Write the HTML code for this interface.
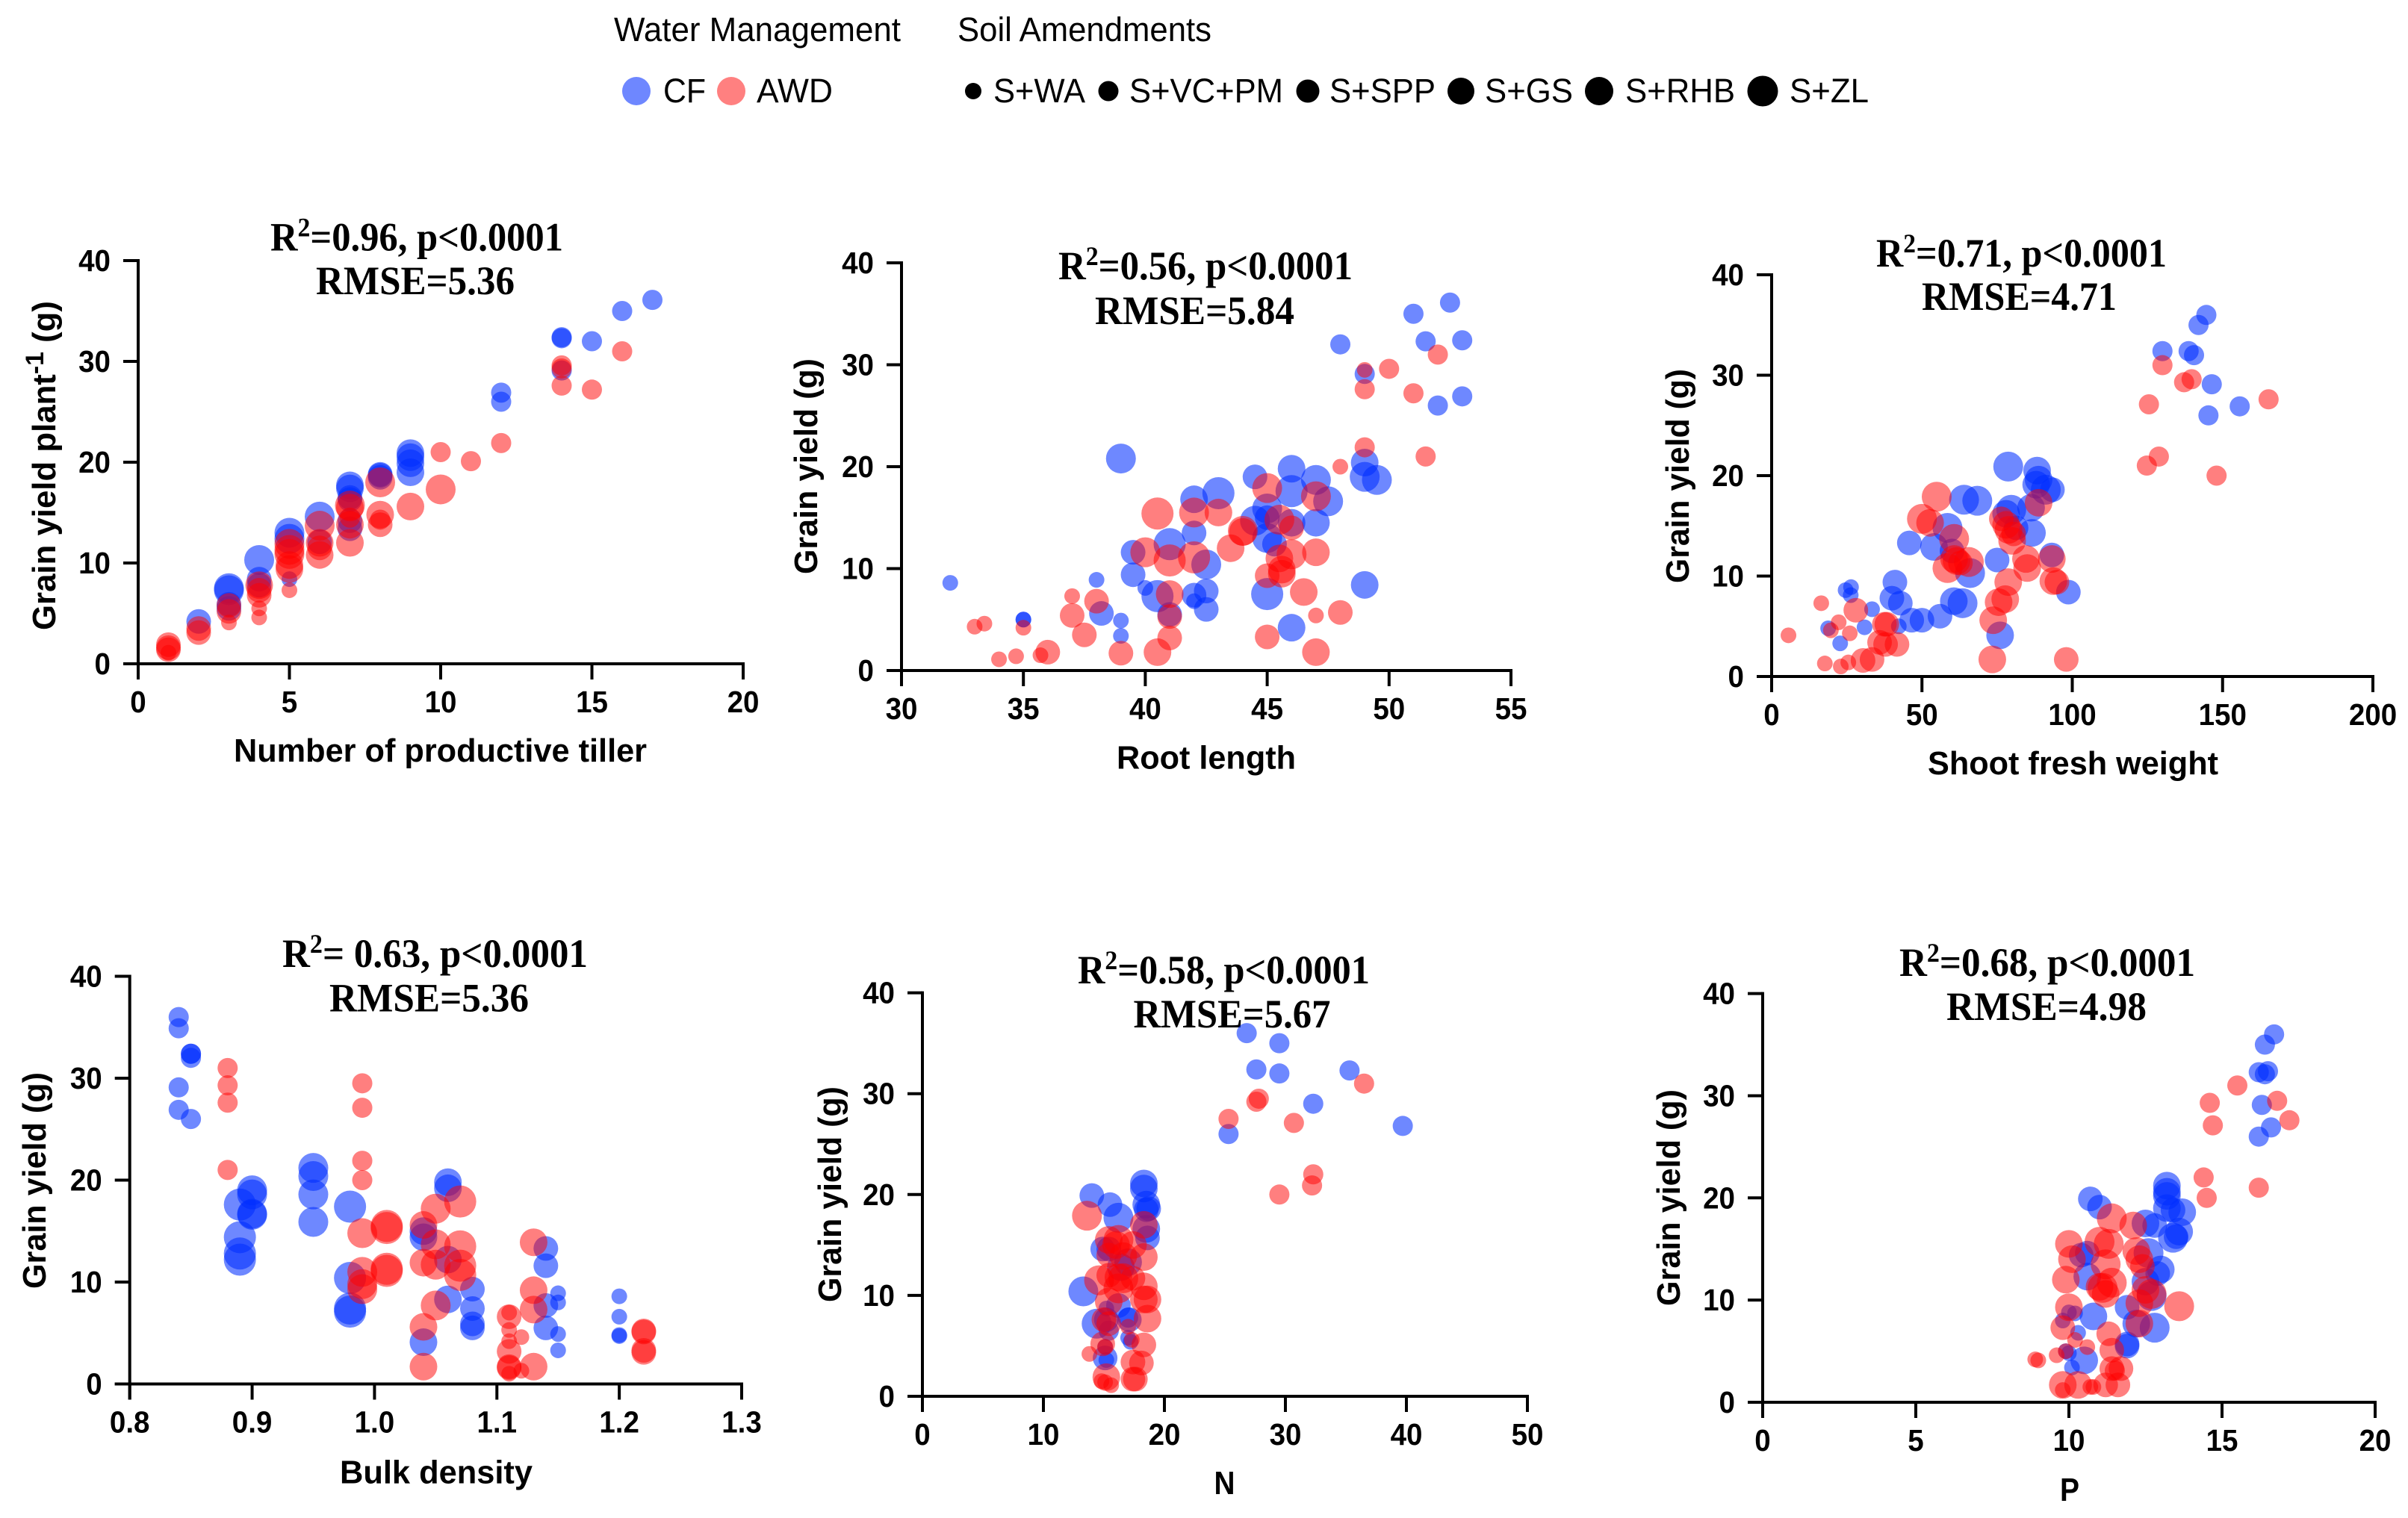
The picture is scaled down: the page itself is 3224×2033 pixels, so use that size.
<!DOCTYPE html>
<html lang="en">
<head>
<meta charset="utf-8">
<title>Grain yield relationships</title>
<style>
html,body{margin:0;padding:0;background:#fff;}
svg{display:block;}
.legend{font-family:"Liberation Sans",sans-serif;font-size:45px;fill:#000;}
.title{font-family:"Liberation Serif",serif;font-weight:bold;font-size:54px;fill:#000;}
.axis-title{font-family:"Liberation Sans",sans-serif;font-weight:bold;font-size:44px;fill:#000;}
.tick{font-family:"Liberation Sans",sans-serif;font-weight:bold;font-size:41px;fill:#000;}
</style>
</head>
<body>
<svg id="chart" xmlns="http://www.w3.org/2000/svg" width="3224" height="2033" viewBox="0 0 3224 2033">
<rect width="3224" height="2033" fill="#fff"/>
<g>
<text class="legend" x="822" y="55" textLength="384" lengthAdjust="spacingAndGlyphs">Water Management</text>
<text class="legend" x="1282" y="55" textLength="340" lengthAdjust="spacingAndGlyphs">Soil Amendments</text>
<circle cx="852" cy="122" r="19" fill="#6e87ff"/>
<text class="legend" x="888" y="137" textLength="57" lengthAdjust="spacingAndGlyphs">CF</text>
<circle cx="979" cy="122" r="19" fill="#ff8080"/>
<text class="legend" x="1013" y="137" textLength="102" lengthAdjust="spacingAndGlyphs">AWD</text>
<circle cx="1303" cy="122" r="11"/>
<text class="legend" x="1330" y="137" textLength="123" lengthAdjust="spacingAndGlyphs">S+WA</text>
<circle cx="1484" cy="122" r="13.5"/>
<text class="legend" x="1512" y="137" textLength="206" lengthAdjust="spacingAndGlyphs">S+VC+PM</text>
<circle cx="1751" cy="122" r="15.5"/>
<text class="legend" x="1780" y="137" textLength="142" lengthAdjust="spacingAndGlyphs">S+SPP</text>
<circle cx="1956" cy="122" r="18"/>
<text class="legend" x="1988" y="137" textLength="118" lengthAdjust="spacingAndGlyphs">S+GS</text>
<circle cx="2141" cy="122" r="19"/>
<text class="legend" x="2176" y="137" textLength="147" lengthAdjust="spacingAndGlyphs">S+RHB</text>
<circle cx="2360" cy="122" r="20.5"/>
<text class="legend" x="2396" y="137" textLength="106" lengthAdjust="spacingAndGlyphs">S+ZL</text>
</g>

<text class="title" x="362" y="335.5" textLength="392" lengthAdjust="spacingAndGlyphs">R<tspan dy="-19" font-size="36">2</tspan><tspan dy="19">=0.96, p&lt;0.0001</tspan></text>
<text class="title" x="423" y="394" textLength="266" lengthAdjust="spacingAndGlyphs">RMSE=5.36</text>
<text class="axis-title" x="313" y="1020" textLength="553" lengthAdjust="spacingAndGlyphs">Number of productive tiller</text>
<text class="axis-title" transform="translate(74 844) rotate(-90)" textLength="441" lengthAdjust="spacingAndGlyphs">Grain yield plant<tspan dy="-16" font-size="34">-1</tspan><tspan dy="16"> (g)</tspan></text>

<text class="title" x="1417" y="374" textLength="394" lengthAdjust="spacingAndGlyphs">R<tspan dy="-19" font-size="36">2</tspan><tspan dy="19">=0.56, p&lt;0.0001</tspan></text>
<text class="title" x="1466" y="434" textLength="267" lengthAdjust="spacingAndGlyphs">RMSE=5.84</text>
<text class="axis-title" x="1495" y="1029.5" textLength="240" lengthAdjust="spacingAndGlyphs">Root length</text>
<text class="axis-title" transform="translate(1094 769) rotate(-90)" textLength="289" lengthAdjust="spacingAndGlyphs">Grain yield (g)</text>

<text class="title" x="2512" y="357" textLength="389" lengthAdjust="spacingAndGlyphs">R<tspan dy="-19" font-size="36">2</tspan><tspan dy="19">=0.71, p&lt;0.0001</tspan></text>
<text class="title" x="2573" y="415" textLength="261" lengthAdjust="spacingAndGlyphs">RMSE=4.71</text>
<text class="axis-title" x="2581" y="1037" textLength="389" lengthAdjust="spacingAndGlyphs">Shoot fresh weight</text>
<text class="axis-title" transform="translate(2261 781) rotate(-90)" textLength="287" lengthAdjust="spacingAndGlyphs">Grain yield (g)</text>

<text class="title" x="378" y="1295" textLength="409" lengthAdjust="spacingAndGlyphs">R<tspan dy="-19" font-size="36">2</tspan><tspan dy="19">= 0.63, p&lt;0.0001</tspan></text>
<text class="title" x="441" y="1354.5" textLength="267" lengthAdjust="spacingAndGlyphs">RMSE=5.36</text>
<text class="axis-title" x="455" y="1986.5" textLength="258" lengthAdjust="spacingAndGlyphs">Bulk density</text>
<text class="axis-title" transform="translate(61 1726) rotate(-90)" textLength="290" lengthAdjust="spacingAndGlyphs">Grain yield (g)</text>

<text class="title" x="1443" y="1317" textLength="391" lengthAdjust="spacingAndGlyphs">R<tspan dy="-19" font-size="36">2</tspan><tspan dy="19">=0.58, p&lt;0.0001</tspan></text>
<text class="title" x="1517.5" y="1376" textLength="264" lengthAdjust="spacingAndGlyphs">RMSE=5.67</text>
<text class="axis-title" x="1625.5" y="2001" textLength="28" lengthAdjust="spacingAndGlyphs">N</text>
<text class="axis-title" transform="translate(1126 1744) rotate(-90)" textLength="289" lengthAdjust="spacingAndGlyphs">Grain yield (g)</text>

<text class="title" x="2543" y="1307" textLength="396" lengthAdjust="spacingAndGlyphs">R<tspan dy="-19" font-size="36">2</tspan><tspan dy="19">=0.68, p&lt;0.0001</tspan></text>
<text class="title" x="2606" y="1366" textLength="268" lengthAdjust="spacingAndGlyphs">RMSE=4.98</text>
<text class="axis-title" x="2758" y="2010" textLength="26" lengthAdjust="spacingAndGlyphs">P</text>
<text class="axis-title" transform="translate(2249 1749) rotate(-90)" textLength="290" lengthAdjust="spacingAndGlyphs">Grain yield (g)</text>
</svg>

<script>
const yTickLabels = ["0","10","20","30","40"];
const tillerTickLabels = ["0","5","10","15","20"];
const rootTickLabels = ["30","35","40","45","50","55"];
const shootTickLabels = ["0","50","100","150","200"];
const densityTickLabels = ["0.8","0.9","1.0","1.1","1.2","1.3"];
const nitrogenTickLabels = ["0","10","20","30","40","50"];
const phosphorusTickLabels = ["0","5","10","15","20"];

const tillerCfX = [17,16,15,14,14,14,12,12,9,9,9,9,8,8,8,7,7,7,7,7,7,6,6,5,5,5,4,4,4,3,3,3,3,2];
const tillerCfY = [36.1,35,32,32.4,32.3,29.1,26.9,26,20.9,20.5,19.9,19,18.8,18.7,18.5,17.7,17.4,16.5,16.3,14.2,13.4,14.6,12.1,13,12.4,8.4,10.3,8.4,7.8,7.5,7.3,5.9,5.5,4.2];
const tillerCfSize = [2,2,2,2,2,2,2,2,4,4,4,4,3,3,3,4,4,3,3,3,3,5,3,5,5,1,5,3,3,5,5,3,3,3];
const tillerAwdX = [16,15,14,14,14,12,11,10,10,9,8,8,8,8,7,7,7,7,7,6,6,6,6,5,5,5,5,5,5,4,4,4,4,4,3,3,3,2,2,1,1,1,1];
const tillerAwdY = [31,27.2,29.6,29.3,27.6,21.9,20.1,21,17.3,15.6,18,14.8,14.3,13.8,15.7,15.5,14.5,13.8,12,13.7,12,11.5,10.8,11.9,11.3,10.9,9.8,9.4,7.3,7.8,7.3,6.8,5.5,4.6,5.8,5.2,4.1,3.5,3.1,1.9,1.6,1.4,1.1];
const tillerAwdSize = [2,2,2,2,2,2,2,2,5,4,5,4,2,3,5,4,2,4,4,5,4,3,4,5,5,5,4,4,1,4,3,3,1,1,3,3,1,3,3,3,3,3,1];

const rootCfX = [32,35,35,38,38.2,39,39,39,39.5,39.5,40,40.5,41,41,42,42,42,42,42.5,42.5,42.5,43,44.5,44.5,45,45,45,45,45.3,46,46,46,46,47,47,47.5,48,49,49,49.5,49,49,51,51.5,52,52.5,53,53];
const rootCfY = [8.6,5,5,8.9,5.6,4.9,3.4,20.8,11.6,9.4,8.1,7.3,12.4,5.5,16.8,13.5,7.4,6.8,10.4,7.8,6,17.4,19,14.7,15.9,15,13,7.5,12.4,19.8,17.6,14.5,4.2,18.7,14.5,16.6,32,20.4,19,18.7,8.4,29.1,35,32.3,26,36.1,32.4,26.9];
const rootCfSize = [1,1,1,1,3,1,1,5,3,3,1,6,6,3,4,3,3,1,5,3,3,6,3,5,5,3,5,6,3,4,6,4,4,5,4,5,2,4,5,5,4,2,2,2,2,2,2,2];
const rootAwdX = [33,33.4,34,34.7,35,35.7,36,37,37,37.5,38,39,40,40.5,40.5,41,41,41,41,42,42,43,43.5,44,44,45,45,45,45.5,45.5,45.6,45.6,46,46,46.5,47,47,47,47,48,48,49,49,49,50,51,51.5,52];
const rootAwdY = [4.3,4.6,1.1,1.4,4.2,1.5,1.8,7.3,5.4,3.5,6.8,1.7,11.6,15.4,1.8,10.8,7.5,5.3,3.2,15.5,11.1,15.5,12,13.7,13.6,17.9,9.3,3.3,14.8,11,9.9,9.5,14,11.4,7.7,17.1,11.6,5.4,1.8,5.7,20,29.5,27.6,21.9,29.6,27.2,21,31];
const rootAwdSize = [1,1,1,1,1,1,3,1,3,3,3,3,5,6,4,6,4,3,3,5,6,4,4,5,4,5,3,3,5,4,4,4,3,5,4,5,4,1,4,3,1,1,2,2,2,2,2,2];

const shootCfX = [18.8,22.8,24.6,26.4,26.3,33.4,30.9,40,41,42.8,42.3,46.6,50,56,45.8,54,58.5,60,66,60.6,63.5,64,68.4,75,76,78.7,79.7,78,81.3,86.3,86.6,88.3,88.8,88,91.2,93.4,93.2,98.7,130,138.7,140.5,142,144.6,146.4,145.3,155.7];
const shootCfY = [4.8,3.3,8.6,8.9,8.1,6.7,4.9,7.8,9.4,7.3,5,5.6,5.6,6,13.3,12.9,14.8,12.5,10.3,7.5,7.3,17.6,17.5,11.6,4.1,20.9,16.6,16.2,14.8,16.8,14.3,20.5,19.6,19.1,18.6,18.6,12.1,8.4,32.4,32.4,32,35,36,29.1,26,26.9];
const shootCfSize = [1,1,1,1,1,1,1,3,3,3,1,3,3,3,3,4,5,3,5,4,5,5,5,3,4,5,5,4,3,4,4,4,4,4,5,3,3,3,2,2,2,2,2,2,2,2];
const shootAwdX = [5.6,16.5,17.7,19.7,22.3,23,25.5,26,28,30.4,33.4,35.9,37.9,37.5,38.3,41.7,50,52.7,54.9,60.7,58.5,60.7,61.5,65.6,62.8,73.4,73.7,75.5,77.7,78.7,76.4,78,78.8,80.5,80,84.6,85,88.8,93.2,93.7,94.9,98,124.8,128.8,125.5,130,137.2,139.7,148,165.3];
const shootAwdY = [4.1,7.3,1.3,4.6,5.4,1,1.4,4.3,6.6,1.6,1.7,3.4,3.2,5.2,5.2,3.2,15.7,15.3,17.9,13.7,10.8,11.7,11.5,11.4,11.3,1.7,5.6,7.4,7.7,9.4,15.7,15.1,14.6,14.2,13.5,11.7,10.8,17.3,11.7,9.5,9.4,1.7,21,21.9,27.1,31,29.3,29.6,20,27.6];
const shootAwdSize = [1,1,1,1,1,1,1,1,3,3,3,3,3,3,3,3,5,4,5,5,5,4,4,5,3,4,4,4,4,4,3,4,4,3,4,4,4,4,4,4,3,3,2,2,2,2,2,2,2,2];

const densityCfX = [0.84,0.84,0.85,0.85,0.85,0.84,0.84,0.85,0.89,0.89,0.89,0.89,0.9,0.9,0.9,0.9,0.95,0.95,0.95,0.95,0.98,0.98,0.98,0.98,1.04,1.04,1.04,1.06,1.06,1.06,1.06,1.08,1.08,1.08,1.08,1.14,1.14,1.14,1.14,1.15,1.15,1.15,1.15,1.2,1.2,1.2,1.2];
const densityCfY = [36,34.9,32.4,32.4,32,29.1,26.9,26,17.6,14.4,12.8,12.2,19,18.6,16.7,16.6,21.2,20.4,18.6,15.9,17.4,10.4,7.4,7.1,15,14.4,4.1,19.8,19.2,12.2,8.3,9.3,7.4,5.9,5.5,13.3,11.6,7.7,5.5,8.9,8,4.9,3.3,8.6,6.6,4.8,4.7];
const densityCfSize = [2,2,2,2,2,2,2,2,6,6,6,6,5,5,5,5,5,5,5,5,6,6,6,6,4,4,4,4,4,4,4,3,3,3,3,3,3,3,3,1,1,1,1,1,1,1,1];
const densityAwdX = [0.88,0.88,0.88,0.88,0.99,0.99,0.99,0.99,0.99,0.99,0.99,0.99,1.01,1.01,1.01,1.01,1.04,1.04,1.04,1.04,1.05,1.05,1.05,1.05,1.07,1.07,1.07,1.07,1.11,1.11,1.11,1.11,1.11,1.11,1.11,1.11,1.12,1.12,1.13,1.13,1.13,1.13,1.22,1.22,1.22,1.22];
const densityAwdY = [31,29.3,27.6,21,29.5,27.1,21.9,20,14.8,11,9.8,9.3,15.5,15.3,11.3,11.1,15.6,11.9,5.6,1.7,17.2,13.7,11.7,7.7,17.9,13.5,11.6,10.7,7,6.6,5.3,4.2,3.2,1.7,1.6,1,4.6,1.3,13.9,9.2,7.3,1.7,5.2,5.1,3.3,3.1];
const densityAwdSize = [2,2,2,2,2,2,2,2,5,5,5,5,6,6,6,6,4,4,4,4,5,5,5,5,6,6,6,6,1,3,1,1,3,3,3,1,1,1,4,4,4,4,3,3,3,3];

const nitrogenCfX = [26.8,29.5,27.6,29.5,35.3,32.3,39.7,25.3,18.3,18.3,14,15.5,16.2,18.5,18.7,18.5,18.5,18.6,13.3,14.4,14.9,15.4,16.4,17,15.2,15.2,17.1,17,16.2,17,17.2,15.1,15.1,15.2,15.4];
const nitrogenCfY = [36,35,32.4,32,32.3,29,26.8,26,21.1,20.6,19.9,19,17.7,19,18.6,18.5,16.6,15.7,10.4,7.2,14.6,14.6,12.8,13.3,7.6,8.7,7.6,7.8,9,5.8,5.4,4.9,3.8,3.6,6.5];
const nitrogenCfSize = [2,2,2,2,2,2,2,2,4,4,3,3,5,4,3,3,4,3,5,5,3,3,4,4,3,1,3,2,3,1,1,1,3,1,2];
const nitrogenAwdX = [36.5,27.8,27.6,25.3,30.7,32.3,32.2,29.5,13.6,18.3,15.4,16.2,16,17.4,15.4,16.6,18.3,14.6,15.4,16.2,16.6,16.2,17.4,18.3,18.3,18.6,18.6,15.4,15,15.4,17,17.3,18.3,14.9,15.1,13.8,17.4,18.1,15.2,14.8,15.6,17.4,17.6,15.1];
const nitrogenAwdY = [31,29.5,29.2,27.5,27.1,22,20.9,20,17.9,17,15.5,15.5,15,15,14,13.9,13.8,11.5,12,11.8,11.7,10.7,11.7,10.9,9.6,9.6,7.7,9.4,7.6,7.2,6.9,5.6,5.1,5.2,4.9,4.2,3.4,3.3,1.9,1.5,1.1,1.7,1.7,1.4];
const nitrogenAwdSize = [2,2,2,2,2,2,2,2,5,4,4,5,4,4,3,4,4,5,3,4,5,5,3,4,4,4,4,4,3,3,1,1,3,3,1,1,3,3,4,1,1,3,3,1];

const phosphorusCfX = [16.7,16.4,16.2,16.5,16.4,16.3,16.6,16.2,13.2,13.2,13.2,10.7,11,13.2,13.7,13.4,12.5,12.8,13.6,13.4,13.5,10.6,10.4,12.6,13,12.9,10.6,12.5,12.7,11.9,10,10.2,10.8,9.8,12.2,12.8,10.3,11.9,11.9,9.9,10,10.5,10.1];
const phosphorusCfY = [36,35,32.3,32.4,32.1,29.1,26.9,26,21.2,20.6,20.2,19.9,19.1,19,18.6,18.8,17.5,17.3,16.7,16.1,16.2,14.6,14.4,14.6,13,12.6,12.3,11.8,10.4,9.3,8.8,8.7,8.4,8,7.7,7.3,6.8,5.7,5.5,5,4.8,4.1,3.4];
const phosphorusCfSize = [2,2,2,2,2,2,2,2,4,4,4,3,3,4,4,3,4,3,4,5,3,3,3,5,4,3,4,4,5,3,1,1,4,1,4,5,1,3,3,1,1,4,1];
const phosphorusAwdX = [16.8,17.2,15.5,14.6,14.7,14.4,14.5,16.2,11.4,12.1,10,11,11.3,10.1,12.2,12.3,11.2,12.4,9.9,11,11.1,11.2,11.4,12.7,12.5,12.3,10,13.6,12.3,9.8,11.3,10.2,10.6,11.4,9.6,9.9,8.9,9,11.7,11.4,11.5,9.8,10.3,9.8,10.7,10.8,11.2,11.6];
const phosphorusAwdY = [29.5,27.6,31,29.3,27.1,22,20,21,18,17.3,15.5,15.7,15.5,14,14.8,14,13.5,13.3,12,11.3,11.2,10.6,11.7,10.6,11,9.7,9.3,9.4,7.7,7.3,6.7,6.1,5.4,5.1,4.6,5,4.2,4.1,3.3,3.3,3.1,1.7,1.7,1.2,1.5,1.5,1.7,1.7];
const phosphorusAwdSize = [2,2,2,2,2,2,2,2,5,4,4,5,5,4,4,4,5,3,4,4,5,4,5,5,4,4,4,5,4,3,3,1,1,3,1,1,1,1,3,3,2,4,4,1,1,1,3,3];

const SVG_NS = "http://www.w3.org/2000/svg";
const chart = document.getElementById("chart");
const amendmentDiameter = {1:21,2:27,3:33,4:37,5:40,6:43};
const CF_FILL = "rgba(0,45,255,0.57)";
const AWD_FILL = "rgba(255,0,0,0.5)";
const TICK_CONDENSE = 0.94;

function el(tag, parent, attrs) {
  const node = document.createElementNS(SVG_NS, tag);
  for (const key in attrs) node.setAttribute(key, attrs[key]);
  parent.appendChild(node);
  return node;
}

function condense(text) {
  text.setAttribute("textLength", text.getComputedTextLength() * TICK_CONDENSE);
  text.setAttribute("lengthAdjust", "spacingAndGlyphs");
}

function drawSeries(group, xs, ys, sizes, xScale, yScale, fill, seriesName) {
  xs.forEach(function (value, i) {
    const point = el("circle", group, {
      cx: xScale(value),
      cy: yScale(ys[i]),
      r: amendmentDiameter[sizes[i]] / 2,
      fill: fill
    });
    
    
  });
}

function drawPanel(name, box, xDomain, xLabels, cf, awd) {
  const group = el("g", chart, {});
  
  

  const xScale = function (v) { return box.x0 + (v - xDomain[0]) / (xDomain[1] - xDomain[0]) * (box.x1 - box.x0); };
  const yScale = function (v) { return box.y0 + v / 40 * (box.y1 - box.y0); };

  const marks = el("g", group, {});
  
  
  drawSeries(marks, cf[0], cf[1], cf[2], xScale, yScale, CF_FILL, name + '-cf');
  drawSeries(marks, awd[0], awd[1], awd[2], xScale, yScale, AWD_FILL, name + '-awd');

  const axisStyle = { stroke: "#000", "stroke-width": 4, fill: "none" };
  const xAxis = el("line", group, Object.assign({ x1: box.x0 - 20, x2: box.x1 + 2, y1: box.y0, y2: box.y0 }, axisStyle));
  
  
  const yAxis = el("line", group, Object.assign({ x1: box.x0, x2: box.x0, y1: box.y1 - 2, y2: box.y0 + 21 }, axisStyle));
  
  

  xLabels.forEach(function (label) {
    const px = xScale(Number(label));
    const tick = el("line", group, Object.assign({ x1: px, x2: px, y1: box.y0, y2: box.y0 + 21 }, axisStyle));
    
    
    const text = el("text", group, { x: px, y: box.y0 + 65, "text-anchor": "middle", "class": "tick" });
    
    
    text.textContent = label;
    condense(text);
  });

  yTickLabels.forEach(function (label) {
    const py = yScale(Number(label));
    const tick = el("line", group, Object.assign({ x1: box.x0 - 20, x2: box.x0, y1: py, y2: py }, axisStyle));
    
    
    const text = el("text", group, { x: box.x0 - 37, y: py + 14, "text-anchor": "end", "class": "tick" });
    
    
    text.textContent = label;
    condense(text);
  });
}

drawPanel("tiller", {x0:185,x1:995,y0:889,y1:349}, [0,20], tillerTickLabels,
  [tillerCfX,tillerCfY,tillerCfSize], [tillerAwdX,tillerAwdY,tillerAwdSize]);
drawPanel("root", {x0:1207,x1:2023,y0:898,y1:352}, [30,55], rootTickLabels,
  [rootCfX,rootCfY,rootCfSize], [rootAwdX,rootAwdY,rootAwdSize]);
drawPanel("shoot", {x0:2372,x1:3177,y0:906,y1:368}, [0,200], shootTickLabels,
  [shootCfX,shootCfY,shootCfSize], [shootAwdX,shootAwdY,shootAwdSize]);
drawPanel("density", {x0:173.7,x1:993,y0:1853.5,y1:1307.5}, [0.8,1.3], densityTickLabels,
  [densityCfX,densityCfY,densityCfSize], [densityAwdX,densityAwdY,densityAwdSize]);
drawPanel("nitrogen", {x0:1235,x1:2045,y0:1870,y1:1329.6}, [0,50], nitrogenTickLabels,
  [nitrogenCfX,nitrogenCfY,nitrogenCfSize], [nitrogenAwdX,nitrogenAwdY,nitrogenAwdSize]);
drawPanel("phosphorus", {x0:2360,x1:3180,y0:1878,y1:1330.6}, [0,20], phosphorusTickLabels,
  [phosphorusCfX,phosphorusCfY,phosphorusCfSize], [phosphorusAwdX,phosphorusAwdY,phosphorusAwdSize]);
</script>
</body>
</html>
